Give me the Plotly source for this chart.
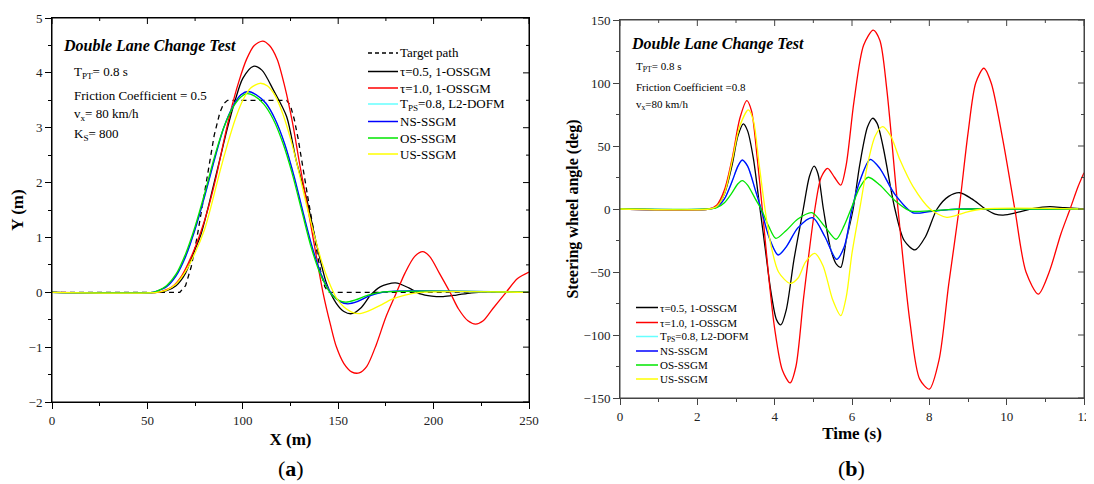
import plotly.graph_objects as go

W, H = 1094, 484
OFF = 8  # the page body margin that offsets the figure inside the window

# ---------------- Panel (a): lateral position Y vs X ----------------
target_x = [0, 67, 70, 73, 76, 79, 82, 85, 88, 90, 92, 123, 125, 127, 129, 131, 134, 137, 139, 141, 143, 145, 250]
target_y = [0, 0, 0.12, 0.47, 1.0, 1.64, 2.29, 2.86, 3.28, 3.44, 3.5, 3.5, 3.4, 3.15, 2.8, 2.35, 1.75, 1.15, 0.7, 0.35, 0.1, 0, 0]

a_black_x = [0, 55, 60, 65, 70, 74, 78, 81.5, 85, 88.5, 92, 96, 100, 105.5, 110, 116, 123, 128, 133.5, 138.5, 144, 149, 153, 157, 162, 167, 172, 180, 187, 193, 199, 205, 212, 220, 231, 240, 250]
a_black_y = [0, 0, 0.03, 0.12, 0.35, 0.7, 1.05, 1.5, 2.0, 2.5, 3.0, 3.5, 3.9, 4.12, 4.05, 3.69, 3.2, 2.4, 1.7, 0.9, 0.15, -0.2, -0.35, -0.39, -0.28, -0.05, 0.1, 0.17, 0.08, -0.03, -0.07, -0.08, -0.05, -0.01, 0.01, 0.0, 0.0]

a_red_x = [0, 55, 58, 63, 68, 73, 78, 82, 86, 90, 94, 98, 102, 106, 110.4, 114, 118, 122, 126, 130, 134, 137, 142, 146, 149, 153, 157, 161, 165, 170, 175, 180.6, 185, 190, 194.3, 198, 203, 208.6, 213, 218, 222, 226, 231, 238, 244, 250]
a_red_y = [0, 0, 0.02, 0.1, 0.3, 0.65, 1.1, 1.55, 2.1, 2.75, 3.35, 3.85, 4.25, 4.5, 4.58, 4.5, 4.25, 3.75, 3.1, 2.3, 1.55, 0.96, 0.0, -0.6, -0.99, -1.3, -1.45, -1.47, -1.35, -0.95, -0.45, 0.0, 0.35, 0.65, 0.74, 0.65, 0.35, 0.0, -0.3, -0.52, -0.58, -0.52, -0.3, 0.0, 0.25, 0.37]

a_blue_x = [0, 53, 55, 60, 65, 70, 75, 80, 85, 90, 95, 99, 103, 107, 112, 117, 122, 127, 132, 137, 142, 147, 151, 155, 160, 166, 173, 180, 250]
a_blue_y = [0, 0, 0.02, 0.1, 0.3, 0.65, 1.15, 1.75, 2.4, 3.0, 3.4, 3.6, 3.66, 3.6, 3.45, 3.15, 2.7, 2.1, 1.4, 0.75, 0.25, -0.05, -0.17, -0.21, -0.17, -0.07, 0.0, 0.02, 0.0]

a_cyan_x = a_blue_x
a_cyan_y = [0, 0, 0.02, 0.1, 0.3, 0.65, 1.15, 1.75, 2.4, 3.0, 3.4, 3.6, 3.65, 3.6, 3.45, 3.15, 2.7, 2.1, 1.4, 0.75, 0.25, -0.05, -0.17, -0.2, -0.16, -0.07, 0.0, 0.02, 0.0]

a_green_x = [0, 53, 55, 60, 65, 70, 75, 80, 85, 90, 95, 99, 102, 106, 111, 116, 121, 126, 131, 136, 141, 146, 150, 154, 159, 165, 172, 250]
a_green_y = [0, 0, 0.02, 0.12, 0.33, 0.7, 1.2, 1.8, 2.45, 3.0, 3.38, 3.56, 3.62, 3.58, 3.43, 3.15, 2.72, 2.15, 1.47, 0.8, 0.3, -0.02, -0.14, -0.18, -0.14, -0.06, 0.0, 0.0]

a_yellow_x = [0, 55, 60, 65, 70, 75, 80, 84, 88, 92, 96, 100, 104, 109, 113, 117, 121, 125, 129, 133, 137, 141, 145, 149, 153, 157, 161.4, 166, 172, 178, 185, 193, 250]
a_yellow_y = [0, 0, 0.04, 0.15, 0.38, 0.72, 1.15, 1.65, 2.2, 2.7, 3.15, 3.5, 3.72, 3.81, 3.76, 3.58, 3.25, 2.8, 2.25, 1.65, 1.1, 0.6, 0.2, -0.1, -0.27, -0.36, -0.39, -0.34, -0.24, -0.13, -0.05, 0.0, 0.0]

# ---------------- Panel (b): steering wheel angle vs time ----------------
b_black_t = [0, 2.3, 2.5, 2.7, 2.9, 3.05, 3.19, 3.3, 3.45, 3.6, 3.75, 3.9, 4.05, 4.16, 4.3, 4.5, 4.74, 4.9, 5.02, 5.12, 5.26, 5.45, 5.6, 5.71, 5.85, 6.03, 6.2, 6.4, 6.53, 6.65, 6.8, 7.11, 7.35, 7.63, 7.9, 8.2, 8.5, 8.79, 9.1, 9.45, 9.7, 9.91, 10.3, 10.7, 11.12, 11.5, 12]
b_black_v = [0, 0, 2, 12, 35, 58, 67.5, 62, 40, 5, -30, -65, -88, -92, -80, -40, 0, 26, 34, 28, 0, -32, -44, -46.3, -25, 0, 35, 65, 72, 68, 50, 0, -25, -32.5, -22, 0, 10, 12.9, 8, 0, -4, -4.8, -2.5, 0.5, 1.9, 1, 0]

b_red_t = [0, 2.3, 2.5, 2.7, 2.9, 3.1, 3.28, 3.4, 3.55, 3.68, 3.85, 4.0, 4.2, 4.4, 4.55, 4.75, 5.04, 5.2, 5.37, 5.55, 5.71, 5.85, 6.05, 6.3, 6.55, 6.72, 6.9, 7.19, 7.5, 7.75, 8.0, 8.25, 8.5, 8.77, 9.0, 9.2, 9.41, 9.6, 9.9, 10.21, 10.5, 10.82, 11.1, 11.4, 11.64, 11.85, 12]
b_red_v = [0, 0, 3, 15, 40, 72, 86, 78, 40, 0, -55, -95, -128, -138, -125, -70, 0, 25, 32.3, 25, 19, 35, 85, 130, 142, 134, 95, 0, -90, -135, -143, -120, -60, 0, 60, 100, 111.7, 100, 55, 0, -50, -67.5, -50, -20, 0, 18, 28.8]

b_blue_t = [0, 2.3, 2.5, 2.7, 2.9, 3.05, 3.16, 3.3, 3.5, 3.65, 3.85, 4.09, 4.3, 4.6, 4.98, 5.3, 5.6, 5.8, 6.0, 6.2, 6.47, 6.72, 7.1, 7.58, 8.0, 8.5, 9.0, 12]
b_blue_v = [0, 0, 1.5, 8, 22, 34, 38.9, 34, 15, 0, -22, -36.5, -30, -15, -6.9, -22, -40, -30, 0, 22, 39.4, 32.3, 12, -3, -2, -0.5, 0, 0]

b_cyan_t = b_blue_t
b_cyan_v = [0, 0, 1.5, 8, 22, 34, 38.5, 34, 15, 0, -22, -36, -30, -15, -6.9, -22, -39.5, -30, 0, 22, 39, 32, 12, -3, -2, -0.5, 0, 0]

b_green_t = [0, 2.3, 2.5, 2.7, 2.9, 3.05, 3.16, 3.3, 3.5, 3.65, 3.85, 4.03, 4.3, 4.6, 4.96, 5.3, 5.59, 5.8, 6.0, 6.2, 6.42, 6.72, 7.1, 7.5, 8.0, 8.6, 9.2, 12]
b_green_v = [0, 0, 1, 5, 13, 20, 22.5, 19, 8, 0, -14, -23.3, -17, -8, -2.9, -14, -24, -13, 2, 17, 25.2, 19, 7, -1.5, -1.5, -0.3, 0, 0]

b_yellow_t = [0, 2.3, 2.5, 2.7, 2.9, 3.1, 3.32, 3.45, 3.6, 3.75, 3.9, 4.1, 4.4, 4.6, 4.8, 5.04, 5.25, 5.5, 5.71, 5.85, 6.0, 6.2, 6.4, 6.6, 6.79, 7.0, 7.24, 7.58, 8.02, 8.45, 8.9, 9.37, 12]
b_yellow_v = [0, 0, 2, 12, 38, 66, 78.6, 70, 35, 0, -28, -50, -59, -55, -42, -35.2, -45, -72, -84.7, -70, -35, 0, 35, 58, 65.3, 58, 39, 17.7, 0, -6.6, -3, 0, 0]

# ---------------- labels ----------------
names = ["Target path", "τ=0.5, 1-OSSGM", "τ=1.0, 1-OSSGM", "T<sub>PS</sub>=0.8, L2-DOFM", "NS-SSGM", "OS-SSGM", "US-SSGM"]
colors = ["black", "black", "#ff0000", "#66ffff", "#0000ff", "#00e600", "#ffff00"]

a_series = [(target_x, target_y), (a_black_x, a_black_y), (a_red_x, a_red_y), (a_cyan_x, a_cyan_y),
            (a_blue_x, a_blue_y), (a_green_x, a_green_y), (a_yellow_x, a_yellow_y)]
b_series = [(b_black_t, b_black_v), (b_red_t, b_red_v), (b_cyan_t, b_cyan_v),
            (b_blue_t, b_blue_v), (b_green_t, b_green_v), (b_yellow_t, b_yellow_v)]

FONT = "'Liberation Serif', 'Times New Roman', Times, serif"

fig = go.Figure()
for i, (xs, ys) in enumerate(a_series):
    if i == 0:
        line = dict(color="black", width=1.3, dash="5px,4px")
    else:
        line = dict(color=colors[i], width=1.3, shape="spline", smoothing=0.8)
    fig.add_trace(go.Scatter(x=xs, y=ys, mode="lines", line=line, name=names[i],
                             showlegend=False, xaxis="x", yaxis="y"))
for j, (xs, ys) in enumerate(b_series):
    fig.add_trace(go.Scatter(x=xs, y=ys, mode="lines",
                             line=dict(color=colors[j + 1], width=1.3, shape="spline", smoothing=0.8),
                             name=names[j + 1], showlegend=False, xaxis="x2", yaxis="y2"))

def px_x(p):
    return (p - OFF) / W

def px_y(p):
    return 1 - (p - OFF) / H

tickfont = dict(family=FONT, size=13, color="#222")

def axis(rng, dtick, minor_dtick, domain, color, title, standoff, anchor, tsize=17):
    return dict(range=rng, dtick=dtick, tick0=0, domain=domain, showgrid=False, zeroline=False,
                showline=True, mirror=True, linecolor=color, linewidth=1, ticks="outside", ticklen=6,
                tickcolor=color, tickwidth=1, tickfont=tickfont, anchor=anchor, automargin=False,
                minor=dict(ticks="outside", ticklen=3, dtick=minor_dtick, tick0=0, tickcolor=color, showgrid=False),
                title=dict(text=title, font=dict(family=FONT, size=tsize, color="black"), standoff=standoff))

dom_ax = [px_x(52), px_x(529)]
dom_ay = [px_y(402), px_y(18)]
dom_bx = [px_x(620), px_x(1084)]
dom_by = [px_y(398), px_y(20)]

fig.update_layout(
    width=W, height=H, margin=dict(l=0, r=0, t=0, b=0, autoexpand=False),
    paper_bgcolor="white", plot_bgcolor="white", showlegend=False,
    font=dict(family=FONT, color="black"),
    xaxis=axis([0, 250], 50, 25, dom_ax, "black", "<b>X (m)</b>", 6, "y"),
    yaxis=axis([-2, 5], 1, 0.5, dom_ay, "black", "<b>Y (m)</b>", 2, "x"),
    xaxis2=axis([0, 12], 2, 1, dom_bx, "#444", "<b>Time (s)</b>", 0, "y2"),
    yaxis2=axis([-150, 150], 50, 25, dom_by, "#444", "<b>Steering wheel angle (deg)</b>", 0, "x2", 16),
)

annos = []
def txt(x, y, text, size, xanchor="left"):
    annos.append(dict(x=px_x(x), y=px_y(y), xref="paper", yref="paper", text=text, showarrow=False,
                      xanchor=xanchor, yanchor="middle", font=dict(family=FONT, size=size, color="black")))

# panel (a) texts
txt(61, 46, "<b><i>Double Lane Change Test</i></b>", 16)
txt(72, 73, "T<sub>PT</sub>= 0.8 s", 13)
txt(72, 95, "Friction Coefficient = 0.5", 13)
txt(72, 114, "v<sub>x</sub>= 80 km/h", 13)
txt(72, 134, "K<sub>S</sub>= 800", 13)
# panel (b) texts
txt(629, 44, "<b><i>Double Lane Change Test</i></b>", 16)
txt(634, 67, "T<sub>PT</sub>= 0.8 s", 11)
txt(634, 87, "Friction Coefficient =0.8", 11)
txt(634, 105, "v<sub>x</sub>=80 km/h", 11)
# panel labels
txt(291, 468, "(<b>a</b>)", 22, xanchor="center")
txt(851, 468, "(<b>b</b>)", 22, xanchor="center")

shapes = []
# frame boxes and inward ticks on the top and right edges (axis decoration)
for xr, yr, color, (x0, x1, xminor, xmajor), (y0, y1, yminor, ymajor), wpx, hpx in [
        ("x", "y", "black", (0, 250, 25, 50), (-2, 5, 0.5, 1), 477, 384),
        ("x2", "y2", "#444", (0, 12, 1, 2), (-150, 150, 25, 50), 464, 378)]:
    shapes.append(dict(type="rect", xref=xr + " domain", yref=yr + " domain", x0=0, x1=1, y0=0, y1=1,
                       line=dict(color=color, width=1), layer="above"))
    n = int(round((x1 - x0) / xminor))
    for k in range(n + 1):
        v = x0 + k * xminor
        ln = 6 if abs((v - x0) % xmajor) < 1e-9 else 3
        shapes.append(dict(type="line", xref=xr, yref=yr + " domain", x0=v, x1=v, y0=1, y1=1 - ln / hpx,
                           line=dict(color=color, width=1), layer="above"))
    n = int(round((y1 - y0) / yminor))
    for k in range(n + 1):
        v = y0 + k * yminor
        ln = 6 if abs((v - y0) % ymajor) < 1e-9 else 3
        shapes.append(dict(type="line", xref=xr + " domain", yref=yr, x0=1, x1=1 - ln / wpx, y0=v, y1=v,
                           line=dict(color=color, width=1), layer="above"))

# legend (a)
leg_a_y = [53, 71.5, 88, 104, 121.5, 138, 154]
for i, yy in enumerate(leg_a_y):
    ln = dict(color=colors[i], width=1.5)
    if i == 0:
        ln["dash"] = "4px,3px"
    shapes.append(dict(type="line", xref="paper", yref="paper", x0=px_x(368), x1=px_x(398),
                       y0=px_y(yy), y1=px_y(yy), line=ln))
    txt(398, yy, names[i], 13)
# legend (b)
leg_b_y = [307.5, 322.5, 336.5, 351, 365, 379]
for j, yy in enumerate(leg_b_y):
    shapes.append(dict(type="line", xref="paper", yref="paper", x0=px_x(636), x1=px_x(658),
                       y0=px_y(yy), y1=px_y(yy), line=dict(color=colors[j + 1], width=1.5)))
    txt(658, yy, names[j + 1], 11)

fig.update_layout(annotations=annos, shapes=shapes)
fig.write_html("out.html")
